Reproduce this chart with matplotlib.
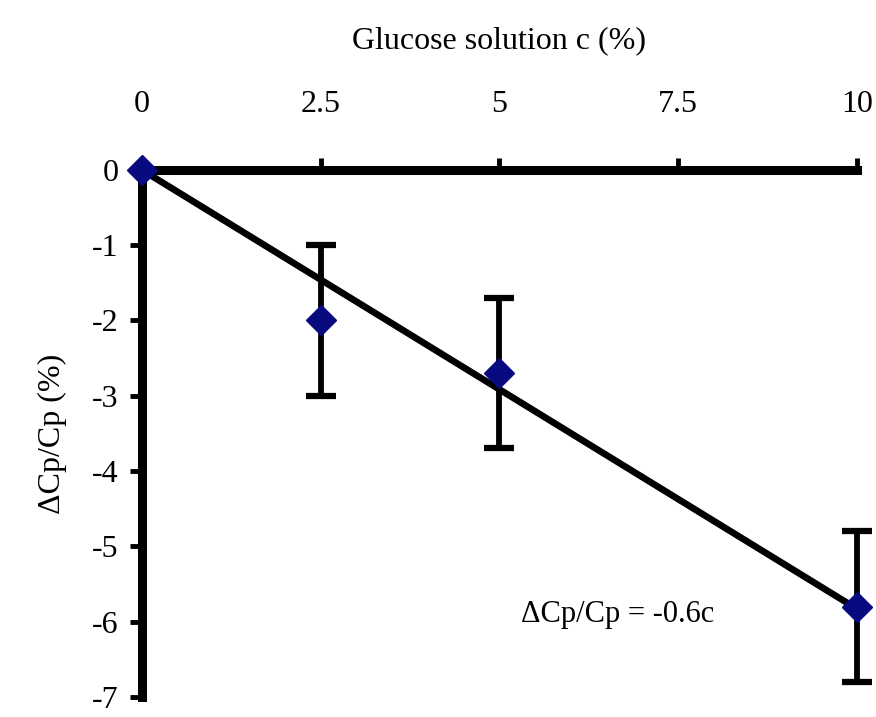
import numpy as np
import matplotlib
matplotlib.use('Agg')
import matplotlib.pyplot as plt

plt.rcParams['font.family'] = ['Liberation Serif', 'DejaVu Serif']

# glucose concentration (%) and relative change of heat capacity (%)
conc = np.array([0, 2.5, 5, 10])
dcp = np.array([0, -2.0, -2.7, -5.8])
err = np.array([0, 1.0, 1.0, 1.0])
xticks = [0, 2.5, 5, 7.5, 10]
xticklabels = ['0', '2.5', '5', '7.5', '10']
yticks = [0, -1, -2, -3, -4, -5, -6, -7]

# trend line through the origin
slope = np.sum(conc * dcp) / np.sum(conc * conc)
xfit = np.array([0, 10])

fig = plt.figure(figsize=(8.76, 7.17), dpi=100)
ax = fig.add_axes([0.162, 0.028, 0.816, 0.735])

ax.plot(xfit, slope * xfit, color='black', lw=4.8, zorder=2, clip_on=False)
ax.errorbar(conc[1:], dcp[1:], yerr=err[1:], fmt='none', ecolor='black',
            elinewidth=4.2, capsize=11, capthick=4.5, zorder=3, clip_on=False)
ax.plot(conc, dcp, 'D', color='#0a0a80', ms=15, zorder=4, clip_on=False)

ax.set_xlim(0, 10)
ax.set_ylim(-7, 0)
ax.spines['right'].set_visible(False)
ax.spines['bottom'].set_visible(False)
ax.spines['left'].set_linewidth(6.5)
ax.spines['top'].set_linewidth(6.5)

ax.xaxis.tick_top()
ax.xaxis.set_label_position('top')
ax.set_xticks(xticks)
ax.set_xticklabels(xticklabels)
ax.set_yticks(yticks)
ax.set_yticklabels([str(t) for t in yticks])
ax.tick_params(axis='x', direction='out', length=9, width=3.5, labelsize=23, pad=28)
ax.tick_params(axis='y', direction='out', length=9, width=3.5, labelsize=23, pad=8)

ax.set_xlabel('Glucose solution c (%)', fontsize=23, labelpad=30)
ax.set_ylabel('\u0394Cp/Cp (%)', fontsize=23, labelpad=18)

ax.text(5.3, -5.9, '\u0394Cp/Cp = -0.6c', fontsize=22, va='center', ha='left')

fig.savefig('out.png', dpi=100)
